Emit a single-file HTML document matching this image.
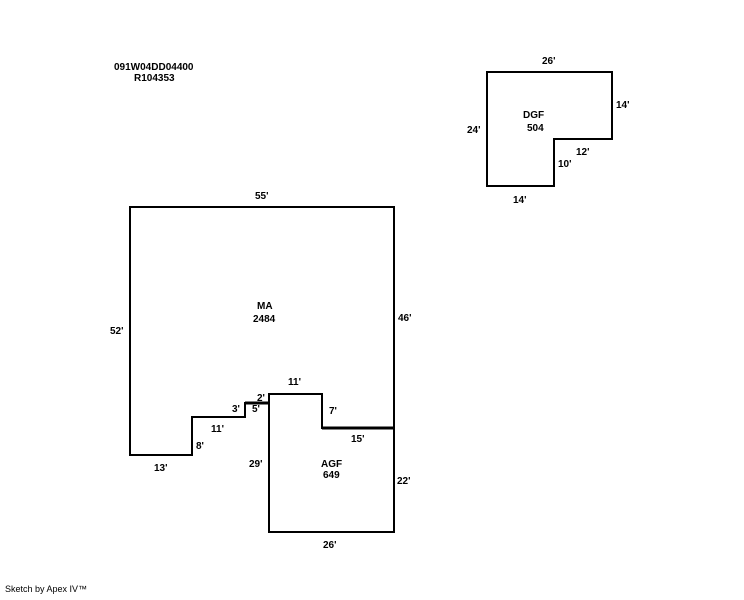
<!DOCTYPE html>
<html><head><style>
body{margin:0;background:#fff;}
svg text{font-family:"Liberation Sans",Arial,sans-serif;font-size:10px;font-weight:bold;fill:#000;}
</style></head><body>
<svg width="744" height="595" viewBox="0 0 744 595" xmlns="http://www.w3.org/2000/svg">
<g fill="none" stroke="#000" stroke-width="2">
<path d="M130,207 H394 V428 H322 V394 H269 V403 H245 V417 H192 V455 H130 Z"/>
<path d="M269,394 V532 H394 V428"/>
<path d="M487,72 H612 V139 H554 V186 H487 Z"/>
<path d="M394,428 H322 M269,403 H245" stroke-width="3"/>
</g>
<text x="114" y="70">091W04DD04400</text>
<text x="134" y="81">R104353</text>
<text x="542" y="64">26'</text>
<text x="616" y="108">14'</text>
<text x="467" y="133">24'</text>
<text x="523" y="118">DGF</text>
<text x="527" y="131">504</text>
<text x="576" y="155">12'</text>
<text x="558" y="167">10'</text>
<text x="513" y="203">14'</text>
<text x="255" y="199">55'</text>
<text x="257" y="309">MA</text>
<text x="253" y="322">2484</text>
<text x="110" y="334">52'</text>
<text x="398" y="321">46'</text>
<text x="288" y="385">11'</text>
<text x="257" y="401">2'</text>
<text x="232" y="412">3'</text>
<text x="252" y="412">5'</text>
<text x="329" y="414">7'</text>
<text x="211" y="432">11'</text>
<text x="351" y="442">15'</text>
<text x="196" y="449">8'</text>
<text x="249" y="467">29'</text>
<text x="321" y="467">AGF</text>
<text x="323" y="478">649</text>
<text x="397" y="484">22'</text>
<text x="154" y="471">13'</text>
<text x="323" y="548">26'</text>
<text x="5" y="592" style="font-weight:normal;font-size:9px">Sketch by Apex IV™</text>
</svg>
</body></html>
